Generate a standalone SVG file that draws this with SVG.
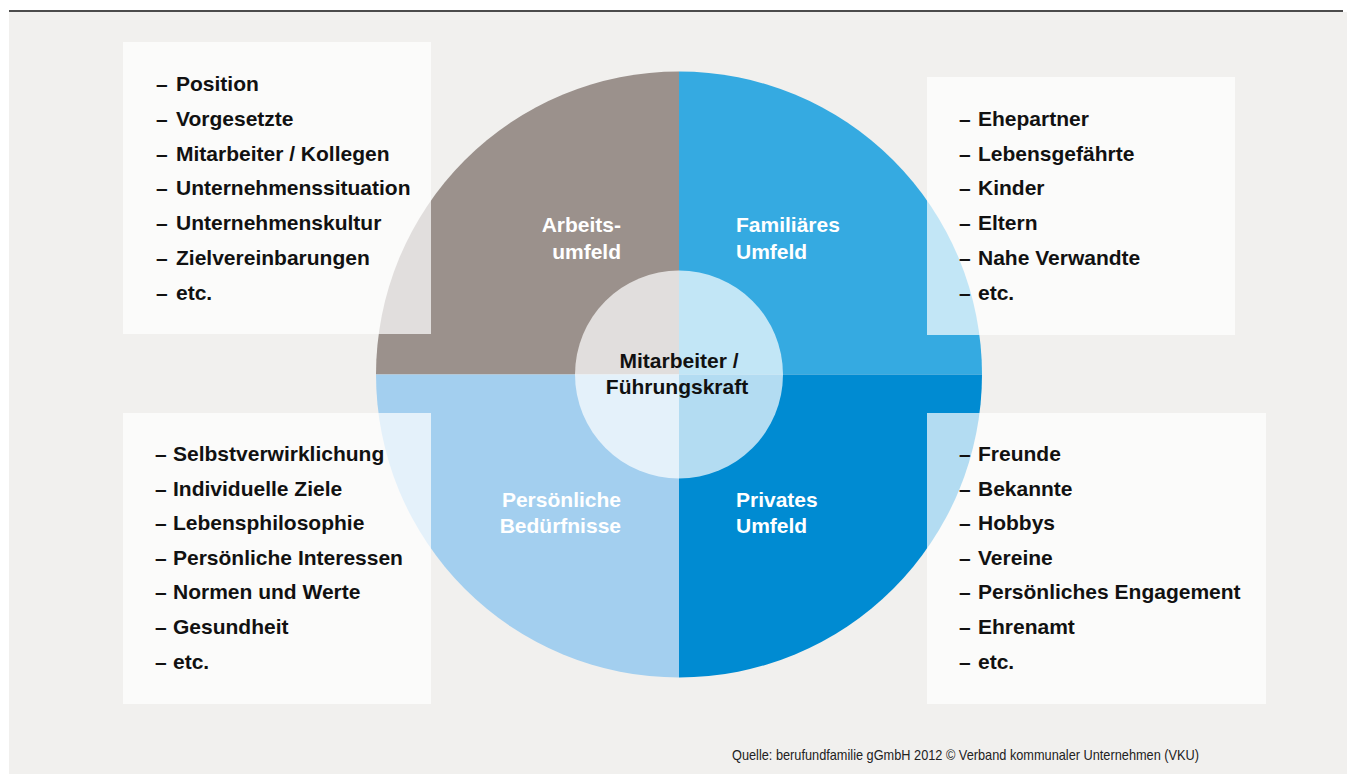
<svg xmlns="http://www.w3.org/2000/svg" width="1347" height="774" viewBox="0 0 1347 774">
<style>
.item{font-family:"Liberation Sans",Arial,sans-serif;font-weight:bold;font-size:21px;fill:#111}
.lbl{font-family:"Liberation Sans",Arial,sans-serif;font-weight:bold;font-size:21px;fill:#fff}
.ctr{font-family:"Liberation Sans",Arial,sans-serif;font-weight:bold;font-size:21px;fill:#111;text-anchor:middle}
.box{fill:#fff;fill-opacity:0.7}
.src{font-family:"Liberation Sans",Arial,sans-serif;font-size:15px;fill:#222}
</style>
<rect x="0" y="0" width="1347" height="774" fill="#fff"/>
<rect x="9" y="12" width="1338" height="762" fill="#f1f0ee"/>
<line x1="9" y1="11" x2="1343" y2="11" stroke="#111" stroke-width="1.6"/>

<g id="quadrants">
<path id="q-arbeit" d="M679,374.5 L376,374.5 A303,303 0 0 1 679,71.5 Z" fill="#9b918c"/>
<path id="q-familie" d="M679,374.5 L679,71.5 A303,303 0 0 1 982,374.5 Z" fill="#35aae1"/>
<path id="q-persoenlich" d="M679,374.5 L376,374.5 A303,303 0 0 0 679,677.5 Z" fill="#a3cfef"/>
<path id="q-privat" d="M679,374.5 L679,677.5 A303,303 0 0 0 982,374.5 Z" fill="#008bd2"/>
</g>

<g id="center">
<circle cx="679" cy="374.5" r="104" class="box"/>
<text class="ctr" x="679" y="368">Mitarbeiter /</text>
<text class="ctr" x="677" y="394">Führungskraft</text>
</g>

<g id="labels">
<text class="lbl" x="621" y="232" text-anchor="end">Arbeits-</text>
<text class="lbl" x="621" y="259" text-anchor="end">umfeld</text>
<text class="lbl" x="736" y="232">Familiäres</text>
<text class="lbl" x="736" y="259">Umfeld</text>
<text class="lbl" x="621" y="507" text-anchor="end">Persönliche</text>
<text class="lbl" x="621" y="533" text-anchor="end">Bedürfnisse</text>
<text class="lbl" x="736" y="507">Privates</text>
<text class="lbl" x="736" y="533">Umfeld</text>
</g>

<g id="box-arbeit">
<rect class="box" x="123" y="42" width="308" height="292"/>
<g class="item">
<text x="156" y="91">–</text><text x="176" y="91">Position</text>
<text x="156" y="126">–</text><text x="176" y="126">Vorgesetzte</text>
<text x="156" y="161">–</text><text x="176" y="161">Mitarbeiter / Kollegen</text>
<text x="156" y="195">–</text><text x="176" y="195">Unternehmenssituation</text>
<text x="156" y="230">–</text><text x="176" y="230">Unternehmenskultur</text>
<text x="156" y="265">–</text><text x="176" y="265">Zielvereinbarungen</text>
<text x="156" y="300">–</text><text x="176" y="300">etc.</text>
</g>
</g>

<g id="box-familie">
<rect class="box" x="927" y="77" width="308" height="258"/>
<g class="item">
<text x="959" y="126">–</text><text x="978" y="126">Ehepartner</text>
<text x="959" y="161">–</text><text x="978" y="161">Lebensgefährte</text>
<text x="959" y="195">–</text><text x="978" y="195">Kinder</text>
<text x="959" y="230">–</text><text x="978" y="230">Eltern</text>
<text x="959" y="265">–</text><text x="978" y="265">Nahe Verwandte</text>
<text x="959" y="300">–</text><text x="978" y="300">etc.</text>
</g>
</g>

<g id="box-persoenlich">
<rect class="box" x="123" y="413" width="308" height="291"/>
<g class="item">
<text x="155" y="461">–</text><text x="173" y="461">Selbstverwirklichung</text>
<text x="155" y="496">–</text><text x="173" y="496">Individuelle Ziele</text>
<text x="155" y="530">–</text><text x="173" y="530">Lebensphilosophie</text>
<text x="155" y="565">–</text><text x="173" y="565">Persönliche Interessen</text>
<text x="155" y="599">–</text><text x="173" y="599">Normen und Werte</text>
<text x="155" y="634">–</text><text x="173" y="634">Gesundheit</text>
<text x="155" y="669">–</text><text x="173" y="669">etc.</text>
</g>
</g>

<g id="box-privat">
<rect class="box" x="927" y="413" width="339" height="291"/>
<g class="item">
<text x="959" y="461">–</text><text x="978" y="461">Freunde</text>
<text x="959" y="496">–</text><text x="978" y="496">Bekannte</text>
<text x="959" y="530">–</text><text x="978" y="530">Hobbys</text>
<text x="959" y="565">–</text><text x="978" y="565">Vereine</text>
<text x="959" y="599">–</text><text x="978" y="599">Persönliches Engagement</text>
<text x="959" y="634">–</text><text x="978" y="634">Ehrenamt</text>
<text x="959" y="669">–</text><text x="978" y="669">etc.</text>
</g>
</g>

<g id="connectors"></g>

<text class="src" x="732" y="760" textLength="467" lengthAdjust="spacingAndGlyphs">Quelle: berufundfamilie gGmbH 2012 © Verband kommunaler Unternehmen (VKU)</text>
</svg>
